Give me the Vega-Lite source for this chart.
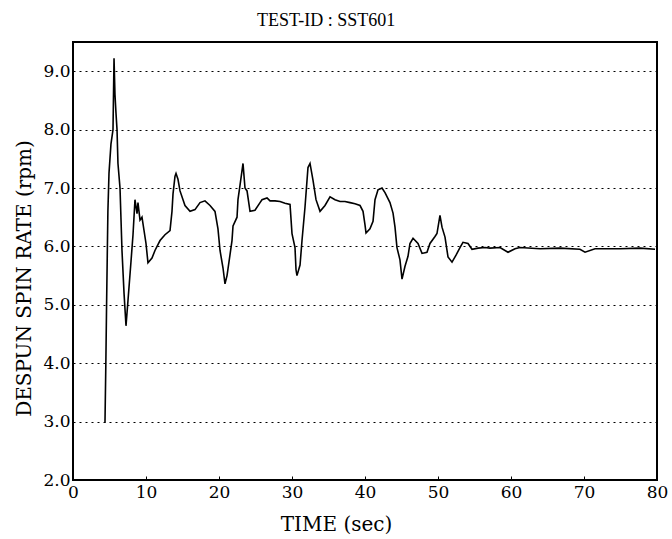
{
  "$schema": "https://vega.github.io/schema/vega-lite/v6.json",
  "width": 584,
  "height": 438,
  "autosize": {"type": "none"},
  "padding": {"left": 73, "top": 42, "right": 15, "bottom": 59},
  "background": "white",
  "title": {
    "text": "TEST-ID : SST601",
    "font": "Liberation Serif",
    "fontSize": 18,
    "fontWeight": "normal",
    "color": "black",
    "anchor": "start",
    "frame": "group",
    "dx": 184,
    "dy": 19,
    "baseline": "alphabetic",
    "offset": 17
  },
  "config": {
    "view": {"stroke": "black", "strokeWidth": 2},
    "axis": {"domain": false}
  },
  "data": {
    "values": [
      {"t": 4.38, "rpm": 2.98}, {"t": 4.5, "rpm": 4.0}, {"t": 4.6, "rpm": 5.0},
      {"t": 4.78, "rpm": 6.6}, {"t": 4.93, "rpm": 7.25}, {"t": 5.2, "rpm": 7.75},
      {"t": 5.48, "rpm": 8.0}, {"t": 5.62, "rpm": 9.22}, {"t": 5.75, "rpm": 8.6},
      {"t": 5.89, "rpm": 8.28}, {"t": 6.03, "rpm": 8.0}, {"t": 6.16, "rpm": 7.42},
      {"t": 6.44, "rpm": 7.0}, {"t": 6.71, "rpm": 5.93}, {"t": 6.99, "rpm": 5.2},
      {"t": 7.26, "rpm": 4.64}, {"t": 7.53, "rpm": 5.07}, {"t": 7.95, "rpm": 5.75},
      {"t": 8.22, "rpm": 6.2}, {"t": 8.49, "rpm": 6.8}, {"t": 8.77, "rpm": 6.56},
      {"t": 8.9, "rpm": 6.75}, {"t": 9.18, "rpm": 6.45}, {"t": 9.45, "rpm": 6.5},
      {"t": 10.0, "rpm": 6.05}, {"t": 10.27, "rpm": 5.72}, {"t": 10.82, "rpm": 5.8},
      {"t": 11.23, "rpm": 5.93}, {"t": 11.92, "rpm": 6.1}, {"t": 12.6, "rpm": 6.2},
      {"t": 13.29, "rpm": 6.27}, {"t": 13.56, "rpm": 6.6}, {"t": 13.7, "rpm": 6.9},
      {"t": 13.97, "rpm": 7.2}, {"t": 14.11, "rpm": 7.25}, {"t": 14.38, "rpm": 7.15},
      {"t": 14.66, "rpm": 6.95}, {"t": 15.34, "rpm": 6.7}, {"t": 16.03, "rpm": 6.6},
      {"t": 16.71, "rpm": 6.63}, {"t": 17.4, "rpm": 6.75}, {"t": 18.08, "rpm": 6.78},
      {"t": 18.77, "rpm": 6.7}, {"t": 19.45, "rpm": 6.6}, {"t": 19.86, "rpm": 6.3},
      {"t": 20.14, "rpm": 5.93}, {"t": 20.55, "rpm": 5.63}, {"t": 20.82, "rpm": 5.36},
      {"t": 21.1, "rpm": 5.5}, {"t": 21.5, "rpm": 5.85}, {"t": 21.78, "rpm": 6.1},
      {"t": 21.92, "rpm": 6.35}, {"t": 22.47, "rpm": 6.5}, {"t": 22.6, "rpm": 6.8},
      {"t": 22.88, "rpm": 7.05}, {"t": 23.29, "rpm": 7.42}, {"t": 23.56, "rpm": 7.0},
      {"t": 23.84, "rpm": 6.95}, {"t": 24.25, "rpm": 6.6}, {"t": 24.93, "rpm": 6.62},
      {"t": 25.62, "rpm": 6.75}, {"t": 25.89, "rpm": 6.8}, {"t": 26.58, "rpm": 6.83},
      {"t": 26.99, "rpm": 6.78}, {"t": 27.67, "rpm": 6.78}, {"t": 28.36, "rpm": 6.77},
      {"t": 29.04, "rpm": 6.74}, {"t": 29.73, "rpm": 6.72}, {"t": 30.0, "rpm": 6.22},
      {"t": 30.41, "rpm": 5.98}, {"t": 30.55, "rpm": 5.6}, {"t": 30.68, "rpm": 5.5},
      {"t": 31.1, "rpm": 5.68}, {"t": 31.37, "rpm": 6.1}, {"t": 31.78, "rpm": 6.67},
      {"t": 32.19, "rpm": 7.35}, {"t": 32.47, "rpm": 7.42}, {"t": 32.88, "rpm": 7.13},
      {"t": 33.29, "rpm": 6.8}, {"t": 33.84, "rpm": 6.6}, {"t": 34.52, "rpm": 6.7},
      {"t": 35.21, "rpm": 6.85}, {"t": 35.89, "rpm": 6.8}, {"t": 36.58, "rpm": 6.77},
      {"t": 37.26, "rpm": 6.77}, {"t": 37.95, "rpm": 6.75}, {"t": 38.63, "rpm": 6.73},
      {"t": 39.32, "rpm": 6.7}, {"t": 39.73, "rpm": 6.6}, {"t": 40.0, "rpm": 6.37},
      {"t": 40.14, "rpm": 6.23}, {"t": 40.68, "rpm": 6.3}, {"t": 41.1, "rpm": 6.43},
      {"t": 41.37, "rpm": 6.8}, {"t": 41.78, "rpm": 6.97}, {"t": 42.33, "rpm": 7.0},
      {"t": 42.74, "rpm": 6.92}, {"t": 43.42, "rpm": 6.75}, {"t": 43.84, "rpm": 6.57},
      {"t": 44.11, "rpm": 6.33}, {"t": 44.38, "rpm": 5.98}, {"t": 44.79, "rpm": 5.77},
      {"t": 45.07, "rpm": 5.44}, {"t": 45.48, "rpm": 5.66}, {"t": 45.89, "rpm": 5.83},
      {"t": 46.16, "rpm": 6.05}, {"t": 46.58, "rpm": 6.14}, {"t": 47.26, "rpm": 6.05},
      {"t": 47.81, "rpm": 5.88}, {"t": 48.49, "rpm": 5.9}, {"t": 48.9, "rpm": 6.05},
      {"t": 49.59, "rpm": 6.17}, {"t": 49.86, "rpm": 6.22}, {"t": 50.27, "rpm": 6.53},
      {"t": 50.55, "rpm": 6.33}, {"t": 50.96, "rpm": 6.16}, {"t": 51.37, "rpm": 5.82},
      {"t": 51.92, "rpm": 5.73}, {"t": 52.47, "rpm": 5.85}, {"t": 53.01, "rpm": 5.98},
      {"t": 53.42, "rpm": 6.07}, {"t": 54.11, "rpm": 6.05}, {"t": 54.66, "rpm": 5.95},
      {"t": 55.48, "rpm": 5.97}, {"t": 56.44, "rpm": 5.98}, {"t": 57.12, "rpm": 5.97},
      {"t": 58.5, "rpm": 5.98}, {"t": 59.59, "rpm": 5.9}, {"t": 60.55, "rpm": 5.96},
      {"t": 61.23, "rpm": 5.98}, {"t": 63.97, "rpm": 5.96}, {"t": 66.71, "rpm": 5.97},
      {"t": 69.45, "rpm": 5.95}, {"t": 70.14, "rpm": 5.9}, {"t": 71.51, "rpm": 5.96},
      {"t": 74.93, "rpm": 5.96}, {"t": 77.67, "rpm": 5.97}, {"t": 79.73, "rpm": 5.95}
    ]
  },
  "mark": {"type": "line", "color": "black", "strokeWidth": 1.6, "clip": true},
  "encoding": {
    "x": {
      "field": "t",
      "type": "quantitative",
      "scale": {"domain": [0, 80], "nice": false, "zero": false},
      "axis": {
        "title": "TIME (sec)",
        "values": [0, 10, 20, 30, 40, 50, 60, 70, 80],
        "grid": false,
        "ticks": true,
        "tickSize": -4,
        "tickColor": "black",
        "tickWidth": 1,
        "labelFont": "DejaVu Serif",
        "labelFontSize": 17,
        "labelColor": "black",
        "labelPadding": 8,
        "labelFlush": false,
        "titleFont": "DejaVu Serif",
        "titleFontSize": 20,
        "titleFontWeight": "normal",
        "titleColor": "black",
        "titleX": 263,
        "titleY": 50,
        "titleBaseline": "alphabetic"
      }
    },
    "y": {
      "field": "rpm",
      "type": "quantitative",
      "scale": {"domain": [2, 9.5], "nice": false, "zero": false},
      "axis": {
        "title": "DESPUN SPIN RATE (rpm)",
        "values": [2, 3, 4, 5, 6, 7, 8, 9],
        "format": ".1f",
        "grid": true,
        "gridColor": "black",
        "gridDash": [2, 4],
        "gridWidth": 1,
        "ticks": false,
        "labelFont": "DejaVu Serif",
        "labelFontSize": 17,
        "labelColor": "black",
        "labelPadding": 3,
        "labelFlush": false,
        "titleFont": "DejaVu Serif",
        "titleFontSize": 20,
        "titleFontWeight": "normal",
        "titleColor": "black",
        "titleX": -43,
        "titleY": 236,
        "titleBaseline": "alphabetic"
      }
    }
  }
}
